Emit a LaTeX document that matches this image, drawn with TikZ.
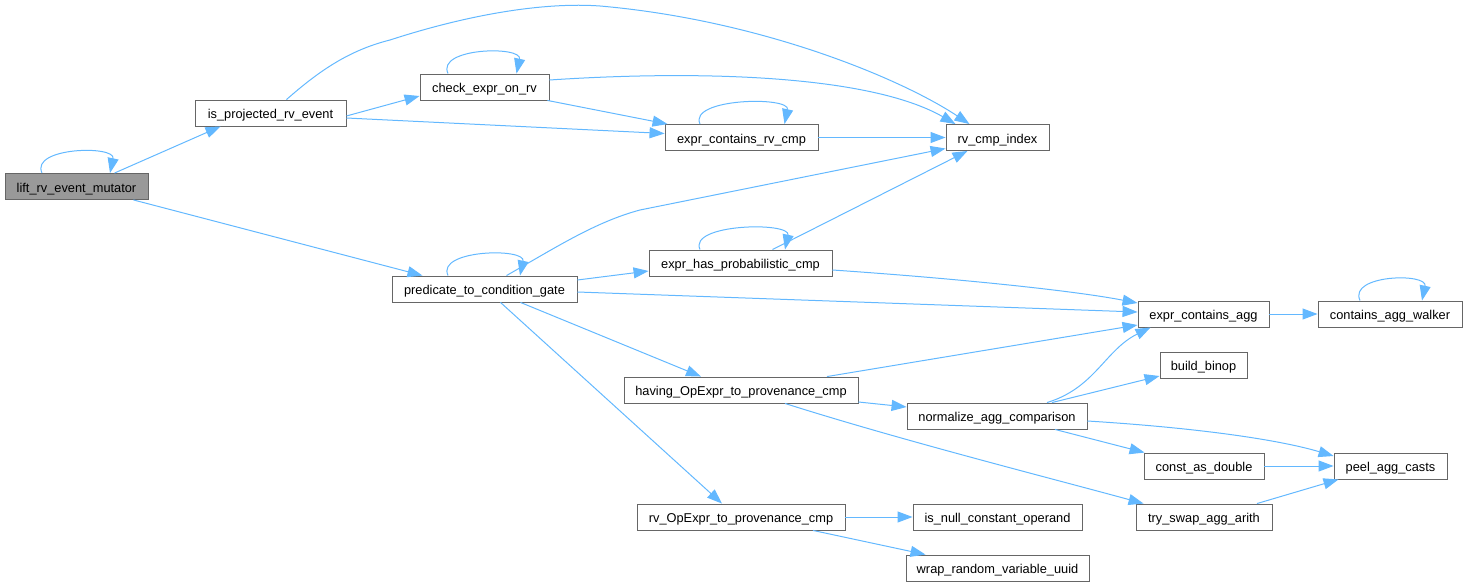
\documentclass[tikz,border=0pt]{standalone}
\usepackage{fontspec}
\setmainfont{Liberation Sans}
\usetikzlibrary{arrows.meta,calc}
\definecolor{edgeblue}{HTML}{63B8FF}
\definecolor{boxgray}{HTML}{666666}
\definecolor{curfill}{HTML}{999999}
\tikzset{
  box/.style={draw=boxgray, line width=0.9pt, fill=white, minimum height=26pt, inner sep=0pt,
    text height=11.5pt, text depth=0.5pt,
    font=\fontsize{12.8}{14}\selectfont, text=black},
  cur/.style={box, fill=curfill},
  edge/.style={draw=edgeblue, line width=1pt, -{Triangle[length=15pt,width=11pt]}},
}
\newcommand\sloop[3]{\draw[edge] ($(#1.north)+(-#2,0)$) .. controls +(-12,-26) and +(6,-28) .. ($(#1.north)+(#3,0)$);}
\begin{document}
\begin{tikzpicture}[x=1pt,y=-1pt]
\useasboundingbox (0,0) rectangle (1468,586);
\node[cur, minimum width=143pt] (lift) at (76.5,186.5) {lift\_rv\_event\_mutator};
\node[box, minimum width=151pt] (isproj) at (270.5,113) {is\_projected\_rv\_event};
\node[box, minimum width=129pt] (check) at (484.5,87) {check\_expr\_on\_rv};
\node[box, minimum width=153pt] (ercmp) at (741.5,137.5) {expr\_contains\_rv\_cmp};
\node[box, minimum width=103pt] (rvidx) at (997.5,137.5) {rv\_cmp\_index};
\node[box, minimum width=185pt] (pred) at (484.5,289) {predicate\_to\_condition\_gate};
\node[box, minimum width=183pt] (ehpc) at (740.5,263) {expr\_has\_probabilistic\_cmp};
\node[box, minimum width=131pt] (eca) at (1203.5,314) {expr\_contains\_agg};
\node[box, minimum width=144pt] (caw) at (1390,314) {contains\_agg\_walker};
\node[box, minimum width=87pt] (binop) at (1203.5,365) {build\_binop};
\node[box, minimum width=234pt] (having) at (741,390) {having\_OpExpr\_to\_provenance\_cmp};
\node[box, minimum width=180pt] (norm) at (997,416) {normalize\_agg\_comparison};
\node[box, minimum width=120pt] (cad) at (1204,466) {const\_as\_double};
\node[box, minimum width=113pt] (peel) at (1390.5,466) {peel\_agg\_casts};
\node[box, minimum width=136pt] (tsa) at (1204,517) {try\_swap\_agg\_arith};
\node[box, minimum width=208pt] (rvop) at (741,517) {rv\_OpExpr\_to\_provenance\_cmp};
\node[box, minimum width=169pt] (isnull) at (997.5,517) {is\_null\_constant\_operand};
\node[box, minimum width=183pt] (wrap) at (997.5,568) {wrap\_random\_variable\_uuid};

% self loops
\sloop{lift}{34.5}{33.5}
\sloop{check}{36.5}{32}
\sloop{ercmp}{41.5}{43}
\sloop{pred}{36.5}{35.5}
\sloop{ehpc}{40.5}{44.5}
\sloop{caw}{30}{32}

% edges
\draw[edge] ($(lift.north)+(38,0)$) -- ($(isproj.south)+(-50,0)$);
\draw[edge] ($(lift.south)+(57,0)$) -- ($(pred.north)+(-62,0)$);
\draw[edge] ($(isproj.east)+(0,3)$) -- ($(check.west)+(0,9)$);
\draw[edge] ($(isproj.east)+(0,5)$) -- ($(ercmp.west)+(0,-4)$);
\draw[edge] ($(isproj.north)+(16,0)$) .. controls (320,70) and (350,50) .. (390,40)
   .. controls (470,14) and (545,2) .. (600,6)
   .. controls (760,20) and (900,78) .. ($(rvidx.north)+(-28,0)$);
\draw[edge] ($(check.south east)+(-2,0)$) -- ($(ercmp.north west)+(3,0)$);
\draw[edge] ($(check.east)+(0,-7)$) .. controls (700,70) and (870,75) .. ($(rvidx.north)+(-42,0)$);
\draw[edge] (ercmp.east) -- (rvidx.west);
\draw[edge] ($(pred.north)+(22,0)$) .. controls (555,248) and (595,222) .. (640,210) -- ($(rvidx.west)+(0,11)$);
\draw[edge] ($(pred.east)+(0,-9)$) -- ($(ehpc.west)+(0,8)$);
\draw[edge] ($(pred.east)+(0,3)$) -- ($(eca.west)+(0,-2)$);
\draw[edge] ($(pred.south)+(36,0)$) -- ($(having.north)+(-40,0)$);
\draw[edge] ($(pred.south)+(16,0)$) -- ($(rvop.north)+(-19,0)$);
\draw[edge] ($(ehpc.north)+(32,0)$) -- ($(rvidx.south)+(-30,0)$);
\draw[edge] ($(ehpc.east)+(0,7)$) .. controls (950,278) and (1070,290) .. ($(eca.west)+(0,-11)$);
\draw[edge] (eca.east) -- (caw.west);
\draw[edge] ($(having.north)+(86,0)$) -- ($(eca.west)+(0,11)$);
\draw[edge] ($(having.east)+(0,12)$) -- ($(norm.west)+(0,-9)$);
\draw[edge] ($(having.south)+(44,0)$) .. controls (900,440) and (1050,478) .. ($(tsa.north west)+(8,0)$);
\draw[edge] ($(norm.north)+(50,0)$) .. controls (1095,388) and (1105,350) .. ($(eca.south)+(-53,0)$);
\draw[edge] ($(norm.north)+(55,0)$) -- ($(binop.west)+(0,11)$);
\draw[edge] ($(norm.east)+(0,5)$) .. controls (1200,428) and (1280,440) .. ($(peel.west)+(0,-10)$);
\draw[edge] ($(norm.south)+(58,0)$) -- ($(cad.north west)+(1,0)$);
\draw[edge] (cad.east) -- (peel.west);
\draw[edge] ($(tsa.north)+(53,0)$) -- ($(peel.south)+(-52,0)$);
\draw[edge] (rvop.east) -- (isnull.west);
\draw[edge] ($(rvop.south)+(72,0)$) -- ($(wrap.north)+(-72,0)$);
\end{tikzpicture}
\end{document}
